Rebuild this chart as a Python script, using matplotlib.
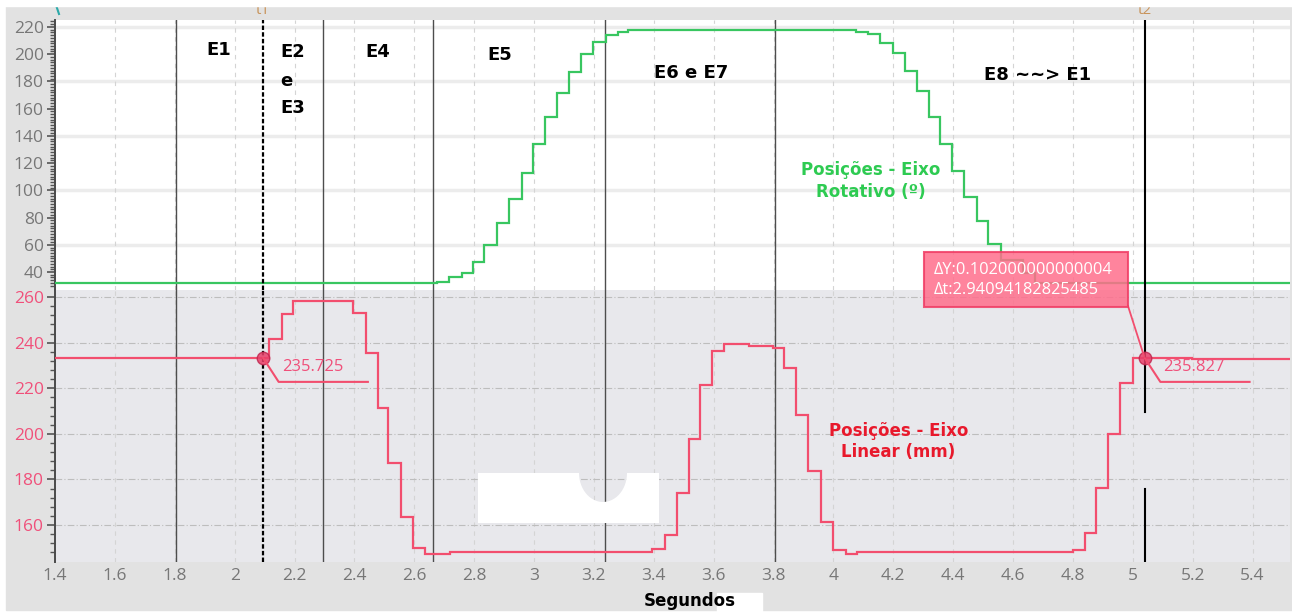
import numpy as np
import matplotlib
matplotlib.use("Agg")
import matplotlib.pyplot as plt
from matplotlib.patches import Rectangle, Polygon
from matplotlib.lines import Line2D

# ---- dados ----
# eixo rotativo (graus), degraus: valor vale de rot_t[i] até rot_t[i+1]
rot_t = [1.4, 2.676, 2.716, 2.759, 2.796, 2.833, 2.876, 2.916, 2.96, 2.997,
         3.037, 3.077, 3.117, 3.157, 3.197, 3.24, 3.28, 3.314, 4.075, 4.115,
         4.155, 4.199, 4.239, 4.279, 4.319, 4.356, 4.396, 4.436, 4.479, 4.516,
         4.559, 4.633, 4.673]
rot_v = [31.7, 32.9, 36.0, 39.5, 47.0, 59.8, 76.2, 93.6, 113.0, 134.0,
         153.6, 171.3, 187.0, 200.2, 208.8, 214.1, 216.3, 217.6, 216.5, 214.6,
         208.5, 201.1, 187.9, 173.0, 154.1, 133.8, 114.4, 95.3, 77.5, 60.4,
         48.8, 39.5, 31.7]

# eixo linear (mm)
lin_t = [1.4, 2.115, 2.158, 2.195, 2.395, 2.438, 2.478, 2.512, 2.555, 2.595,
         2.636, 2.72, 3.394, 3.437, 3.477, 3.518, 3.555, 3.595, 3.635, 3.718,
         3.798, 3.835, 3.875, 3.915, 3.958, 3.998, 4.042, 4.078, 4.80, 4.84,
         4.877, 4.917, 4.957, 5.0, 5.198]
lin_v = [233.3, 241.6, 252.5, 258.2, 253.0, 235.4, 211.3, 187.2, 163.5, 150.0,
         147.3, 148.2, 149.5, 155.6, 174.0, 197.7, 221.4, 236.3, 239.4, 238.5,
         237.6, 228.9, 208.2, 183.7, 161.3, 149.0, 147.3, 148.2, 149.0, 156.5,
         176.2, 200.0, 222.3, 233.2, 232.8]

x_ticks = [1.4, 1.6, 1.8, 2, 2.2, 2.4, 2.6, 2.8, 3, 3.2, 3.4, 3.6, 3.8,
           4, 4.2, 4.4, 4.6, 4.8, 5, 5.2, 5.4]
rot_ticks = [40, 60, 80, 100, 120, 140, 160, 180, 200, 220]
lin_ticks = [160, 180, 200, 220, 240, 260]

phase_lines = [1.805, 2.295, 2.663, 3.237, 3.805]
t1, t2 = 2.095, 5.04
t1_val, t2_val = "235.725", "235.827"
delta_txt = "\u0394Y:0.102000000000004\n\u0394t:2.94094182825485"

# rótulos das etapas (texto, x, y, alinhamento)
stage_labels = [("E1", 1.946, 203.1, "center"),
                ("E2", 2.152, 201.9, "left"),
                ("e", 2.152, 180.3, "left"),
                ("E3", 2.152, 160.7, "left"),
                ("E4", 2.479, 201.4, "center"),
                ("E5", 2.886, 199.4, "center"),
                ("E6 e E7", 3.524, 186.0, "center"),
                ("E8 ~~> E1", 4.682, 184.7, "center")]

# ---- estilo ----
plt.rcParams['font.family'] = ['Open Sans', 'DejaVu Sans']
GREEN = '#38c660'
PINK = '#f24e6e'
FRAME = '#e2e2e2'
XMIN, XMAX = 1.4, 5.525

W, H = 1292, 612
def fx(px):
    return px / W
def fy(py):
    return 1 - py / H

fig = plt.figure(figsize=(12.92, 6.12), dpi=100)
fig.patch.set_facecolor('white')
fig.add_artist(Rectangle((fx(6), fy(610)), 1 - fx(6), fy(6) - fy(610),
                         transform=fig.transFigure, color=FRAME, zorder=-10))

ax_top = fig.add_axes([fx(55), fy(290), fx(1290) - fx(55), fy(20) - fy(290)])
ax_bot = fig.add_axes([fx(55), fy(562), fx(1290) - fx(55), fy(290) - fy(562)])
ax_top.set_facecolor('white')
ax_bot.set_facecolor('#e8e8ec')

for ax in (ax_top, ax_bot):
    ax.set_xlim(XMIN, XMAX)
    for s in ('top', 'right', 'bottom'):
        ax.spines[s].set_visible(False)
    ax.spines['left'].set_color('#4a4a4a')
    ax.spines['left'].set_linewidth(1.4)
    ax.set_xticks(x_ticks)
    for xt in x_ticks:
        ax.axvline(xt, color='#d4d4d4', lw=0.8, ls=(0, (4, 4)), zorder=0.5)
    ax.tick_params(axis='y', which='major', length=6, width=1.2, color='#555555',
                   pad=2, labelsize=12.5)
    ax.tick_params(axis='y', which='minor', length=3.5, width=1, color='#555555')
    for xl in phase_lines:
        ax.axvline(xl, color='#4d4d4d', lw=1, zorder=2)

# topo: eixo rotativo
ax_top.set_ylim(26.8, 225.1)
ax_top.set_yticks(rot_ticks)
ax_top.set_yticks(np.arange(30, 226, 2), minor=True)
ax_top.tick_params(axis='y', labelcolor='#777777')
ax_top.tick_params(axis='x', length=0, labelbottom=False)
for yv in rot_ticks[::-2]:
    ax_top.axhline(yv, color='#ececec', lw=2.5, zorder=0.4)
ax_top.stairs(rot_v, rot_t + [XMAX], color=GREEN, lw=1.6, baseline=None, zorder=4)
ax_top.axvline(t1, color='black', lw=1.6, ls=(0, (2, 1)), zorder=5)
ax_top.axvline(t2, color='black', lw=1.5, zorder=5)

for txt, x, y, ha in stage_labels:
    ax_top.text(x, y, txt, ha=ha, va='center', fontsize=13, fontweight='bold',
                family='DejaVu Sans', color='black')
ax_top.text(4.126, 106.9, "Posições - Eixo\nRotativo (º)", ha='center', va='center',
            fontsize=12, fontweight='bold', family='DejaVu Sans', color='#2ecb52',
            linespacing=1.25)

# baixo: eixo linear
ax_bot.set_ylim(143.8, 263.1)
ax_bot.set_yticks(lin_ticks)
ax_bot.set_yticks(np.arange(148, 264, 4), minor=True)
ax_bot.tick_params(axis='y', labelcolor='#f0507a')
ax_bot.tick_params(axis='x', length=0, pad=4, labelsize=12.5, labelcolor='#777777')
ax_bot.set_xticklabels([f"{v:g}" for v in x_ticks])
for yv in lin_ticks:
    ax_bot.axhline(yv, color='#bdbdbd', lw=0.8, ls=(0, (6, 2, 1, 2)), zorder=0.5)
ax_bot.stairs(lin_v, lin_t + [XMAX], color=PINK, lw=1.6, baseline=None, zorder=4)
ax_bot.axvline(t1, color='black', lw=1.6, ls=(0, (2, 1)), zorder=5)
ax_bot.axvline(t2, ymin=0.551, ymax=1, color='black', lw=1.5, zorder=5)
ax_bot.axvline(t2, ymin=0, ymax=0.268, color='black', lw=1.5, zorder=5)
ax_bot.text(4.217, 196.7, "Posições - Eixo\nLinear (mm)", ha='center', va='center',
            fontsize=12, fontweight='bold', family='DejaVu Sans', color='#e8192c',
            linespacing=1.25)

# cursores
for tc, val, lab in [(t1, lin_v[0], t1_val), (t2, lin_v[-2], t2_val)]:
    ax_bot.plot(tc, val, 'o', ms=9, mfc='#e8406a', mec='#c02850', alpha=0.85, zorder=6)
    ax_bot.plot([tc, tc + 0.052, tc + 0.35], [val, 222.8, 222.8], color=PINK,
                lw=1.5, zorder=6)
    ax_bot.text(tc + 0.062, 229.3, lab, ha='left', va='center', fontsize=12,
                color='#f0507a', zorder=6)

# caixa Delta
fig.add_artist(Line2D([fx(1128), fx(1144)], [fy(306), fy(356)], color=PINK, lw=1.3,
                      transform=fig.transFigure, zorder=9))
fig.add_artist(Rectangle((fx(924), fy(307)), fx(1128) - fx(924), fy(252) - fy(307),
                         transform=fig.transFigure, facecolor='#ff6f8c', alpha=0.85,
                         edgecolor='#f03c64', lw=1.5, zorder=10))
fig.text(fx(934), fy(280), delta_txt, ha='left', va='center', fontsize=11.8,
         color='white', linespacing=1.3, zorder=11)

# mancha branca (recorte da imagem original)
ang = np.linspace(np.pi, 2 * np.pi, 30)
notch = [(603 + 24 * np.cos(a), 473 - 29 * np.sin(a)) for a in ang]
shape = [(478, 473), (579, 473)] + notch + [(627, 473), (659, 473), (659, 523), (478, 523)]
ax_bot.add_patch(Polygon([(fx(a), fy(b)) for a, b in shape], closed=True,
                         transform=fig.transFigure, facecolor='white', edgecolor='none',
                         zorder=3))

# título do eixo x
fig.add_artist(Rectangle((fx(717), fy(612)), fx(762) - fx(717), fy(593) - fy(612),
                         transform=fig.transFigure, color='white', zorder=1))
fig.text(fx(690), fy(601), "Segundos", ha='center', va='center', fontsize=12,
         fontweight='bold', family='DejaVu Sans', color='black', zorder=2)

# cabeçalho dos cursores
fig.text(fx(263), fy(10), "t1", ha='center', va='center', fontsize=11,
         color='#c8935a', zorder=1)
fig.text(fx(1145), fy(10), "t2", ha='center', va='center', fontsize=11,
         color='#c8935a', zorder=1)
fig.add_artist(Line2D([fx(56), fx(59)], [fy(5), fy(14)], color='#2aa8a8', lw=1.5,
                      transform=fig.transFigure, zorder=1))
fig.add_artist(Rectangle((0, fy(6)), 1, 1 - fy(6), transform=fig.transFigure,
                         color='white', zorder=3))

fig.savefig('out.png', dpi=100, facecolor=fig.get_facecolor())
